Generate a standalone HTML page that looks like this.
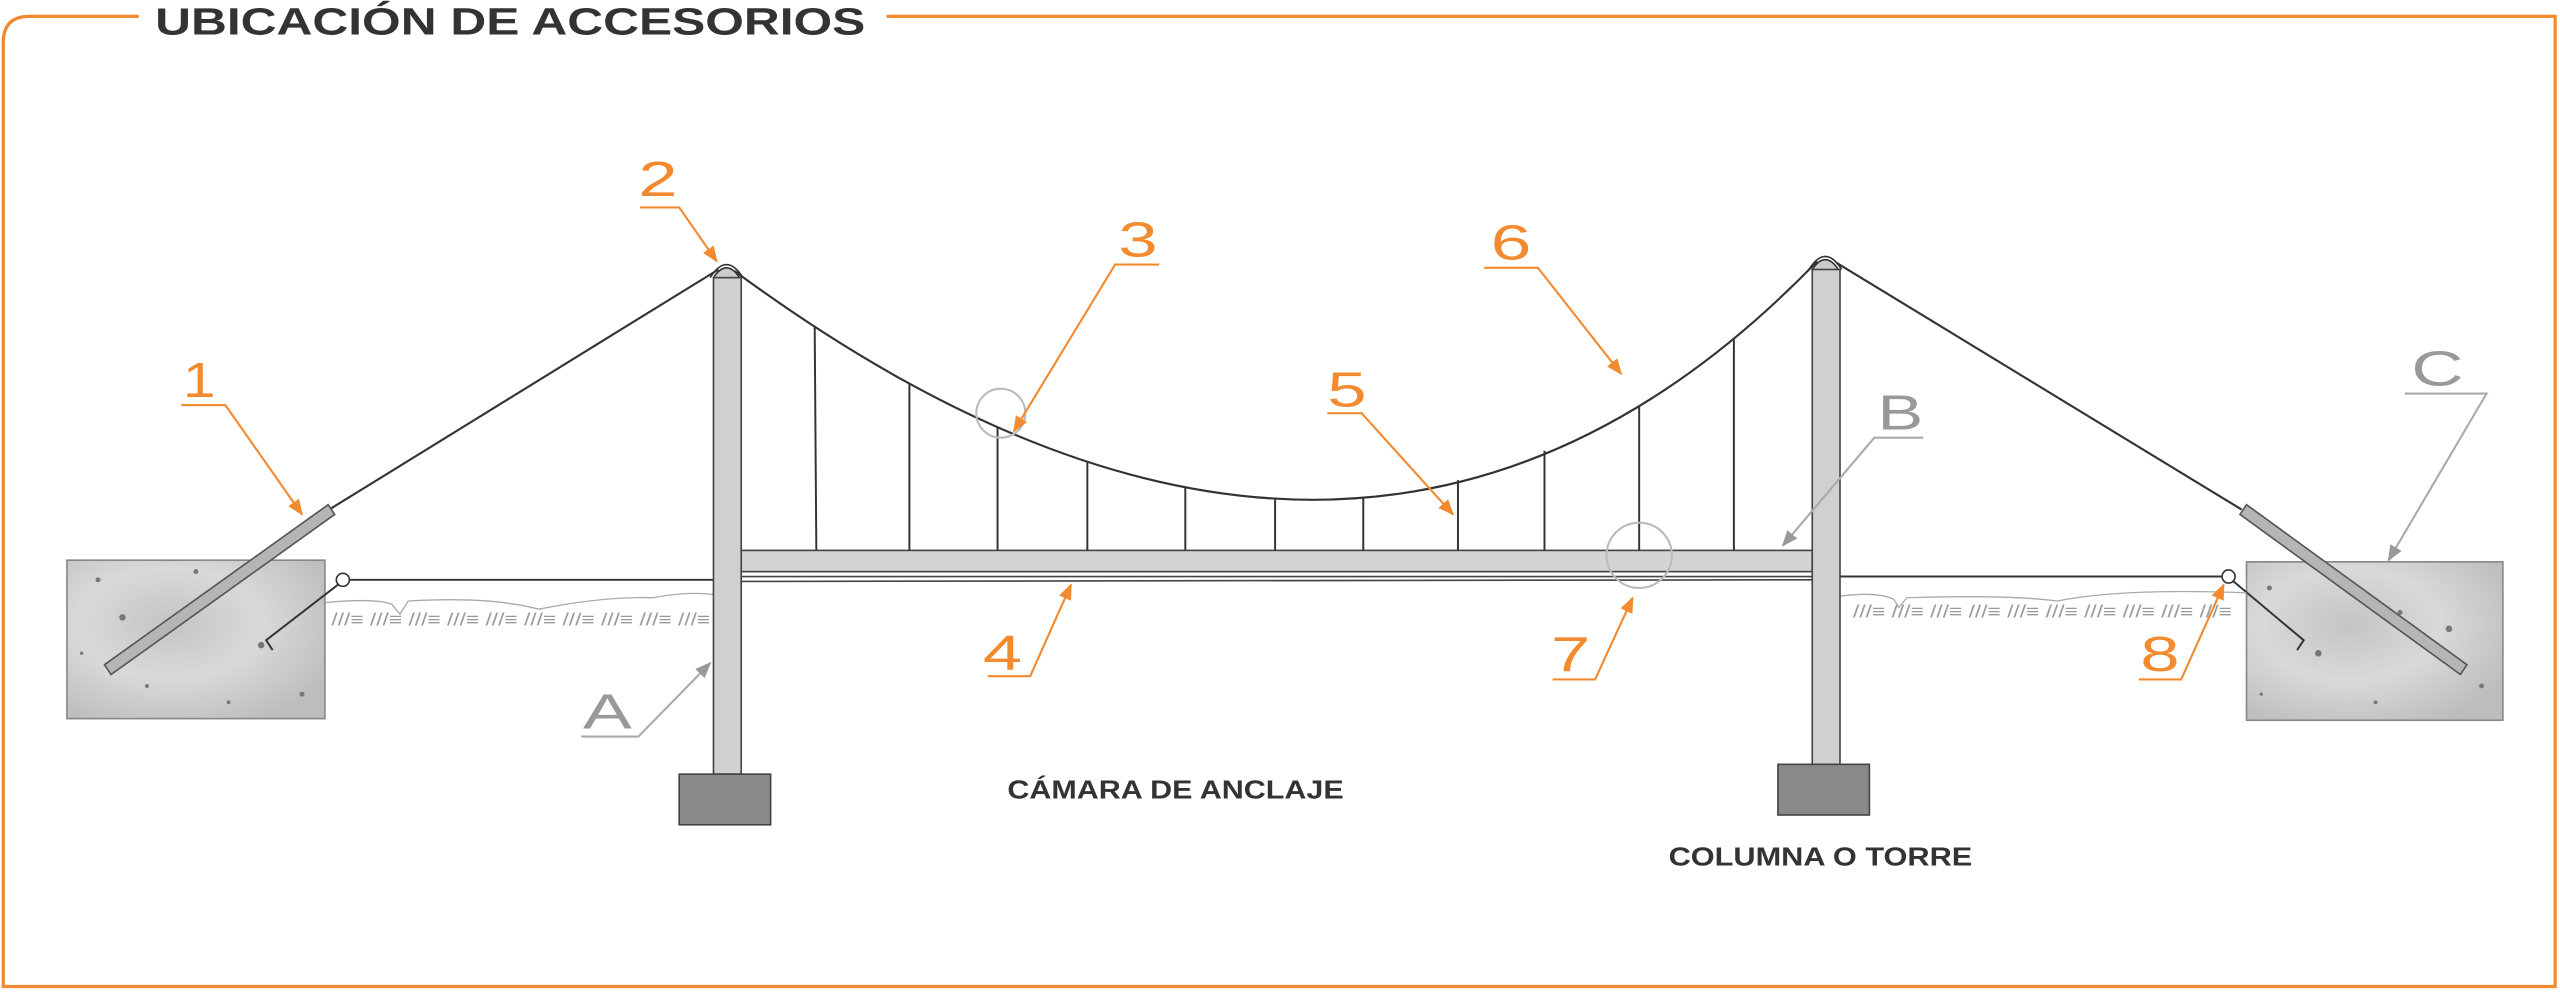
<!DOCTYPE html>
<html><head><meta charset="utf-8"><style>
html,body{margin:0;padding:0;background:#fff;}
svg{display:block;}
text{font-family:"Liberation Sans",sans-serif;}
</style></head><body>
<svg width="2560" height="993" viewBox="0 0 1568 608" preserveAspectRatio="none" xmlns="http://www.w3.org/2000/svg">
<defs>
<marker id="ao" markerWidth="10" markerHeight="10" refX="9" refY="5" orient="auto" markerUnits="userSpaceOnUse"><path d="M0,1 L10,5 L0,9 z" fill="#f28a30"/></marker>
<marker id="ag" markerWidth="10" markerHeight="10" refX="9" refY="5" orient="auto" markerUnits="userSpaceOnUse"><path d="M0,1 L10,5 L0,9 z" fill="#999"/></marker>
<radialGradient id="conc" cx="40%" cy="40%" r="70%"><stop offset="0" stop-color="#c4c4c4"/><stop offset="0.5" stop-color="#d9d9d9"/><stop offset="1" stop-color="#bdbdbd"/></radialGradient>
</defs>
<!-- frame -->
<path d="M85,10 L18,10 Q2,10 2,26 L2,604 L1565,604 L1565,10 L543,10" fill="none" stroke="#f28a30" stroke-width="2"/>
<text x="95" y="21" font-size="23" font-weight="bold" fill="#333" textLength="435" lengthAdjust="spacingAndGlyphs">UBICACIÓN DE ACCESORIOS</text>

<!-- anchor blocks -->
<rect x="41" y="343" width="158" height="97" fill="url(#conc)" stroke="#888" stroke-width="1"/>
<rect x="1376" y="344" width="157" height="97" fill="url(#conc)" stroke="#888" stroke-width="1"/>
<g fill="#777">
<circle cx="60" cy="355" r="1.5"/><circle cx="75" cy="378" r="2"/><circle cx="120" cy="350" r="1.5"/><circle cx="160" cy="395" r="2"/><circle cx="90" cy="420" r="1.2"/><circle cx="185" cy="425" r="1.5"/><circle cx="50" cy="400" r="1"/><circle cx="140" cy="430" r="1.2"/>
<circle cx="1390" cy="360" r="1.5"/><circle cx="1420" cy="400" r="2"/><circle cx="1470" cy="375" r="1.5"/><circle cx="1500" cy="385" r="2"/><circle cx="1455" cy="430" r="1.2"/><circle cx="1520" cy="420" r="1.5"/><circle cx="1385" cy="425" r="1"/>
</g>

<!-- ground lines -->
<line x1="214" y1="355" x2="437" y2="355" stroke="#333" stroke-width="1.2"/>
<circle cx="210" cy="355" r="4" fill="#fff" stroke="#333" stroke-width="1"/>
<polyline points="207,358 163,392 167,398" fill="none" stroke="#333" stroke-width="1.2"/>
<line x1="1127" y1="353" x2="1361" y2="353" stroke="#333" stroke-width="1.2"/>
<circle cx="1365" cy="353" r="4" fill="#fff" stroke="#333" stroke-width="1"/>
<polyline points="1368,356 1411,392 1407,398" fill="none" stroke="#333" stroke-width="1.2"/>
<path d="M199,369 Q230,366 240,370 L245,376 L250,368 Q300,365 330,373 Q370,365 400,366 Q420,362 437,364" fill="none" stroke="#aaa" stroke-width="0.8"/>
<path d="M1127,365 Q1150,362 1160,367 L1163,372 L1168,366 Q1230,364 1260,368 Q1300,360 1376,363" fill="none" stroke="#aaa" stroke-width="0.8"/>
<text x="203" y="383" font-size="11" fill="#999" textLength="232" lengthAdjust="spacingAndGlyphs">///≡ ///≡ ///≡ ///≡ ///≡ ///≡ ///≡ ///≡ ///≡ ///≡</text>
<text x="1135" y="378" font-size="11" fill="#999" textLength="232" lengthAdjust="spacingAndGlyphs">///≡ ///≡ ///≡ ///≡ ///≡ ///≡ ///≡ ///≡ ///≡ ///≡</text>

<!-- deck -->
<rect x="454" y="337" width="656" height="13" fill="#d4d4d4" stroke="#444" stroke-width="1"/>
<line x1="454" y1="353" x2="1110" y2="353" stroke="#444" stroke-width="1"/>
<line x1="454" y1="356" x2="1110" y2="355" stroke="#444" stroke-width="1"/>

<!-- cables -->
<line x1="200" y1="313" x2="440" y2="165" stroke="#333" stroke-width="1.3"/>
<line x1="1125" y1="161" x2="1373" y2="312" stroke="#333" stroke-width="1.3"/>
<path d="M450,166 Q834,449 1113,160" fill="none" stroke="#333" stroke-width="1.3"/>
<g stroke="#333" stroke-width="1.2">
<line x1="499" y1="200" x2="500" y2="337"/>
<line x1="557" y1="235" x2="557" y2="337"/>
<line x1="611" y1="262" x2="611" y2="337"/>
<line x1="666" y1="283" x2="666" y2="337"/>
<line x1="726" y1="298" x2="726" y2="337"/>
<line x1="781" y1="305" x2="781" y2="337"/>
<line x1="835" y1="304" x2="835" y2="337"/>
<line x1="893" y1="294" x2="893" y2="337"/>
<line x1="946" y1="276" x2="946" y2="337"/>
<line x1="1004" y1="249" x2="1004" y2="337"/>
<line x1="1062" y1="207" x2="1062" y2="337"/>
</g>

<!-- anchor rods -->
<polygon points="64,407 201,309 205,315 68,413" fill="#b5b5b5" stroke="#555" stroke-width="1"/>
<polygon points="1372,315 1376,309 1511,407 1507,413" fill="#b5b5b5" stroke="#555" stroke-width="1"/>

<!-- towers -->
<path d="M437,170 Q445,158 453,170" fill="#ccc" stroke="#333" stroke-width="1"/>
<path d="M435,170 Q445,154 455,170" fill="none" stroke="#333" stroke-width="1"/>
<rect x="437" y="170" width="17" height="304" fill="#d0d0d0" stroke="#444" stroke-width="1"/>
<rect x="416" y="474" width="56" height="31" fill="#8a8a8a" stroke="#444" stroke-width="1"/>
<path d="M1110,165 Q1118,153 1126,165" fill="#ccc" stroke="#333" stroke-width="1"/>
<path d="M1108,165 Q1118,149 1128,165" fill="none" stroke="#333" stroke-width="1"/>
<rect x="1110" y="165" width="17" height="303" fill="#d0d0d0" stroke="#444" stroke-width="1"/>
<rect x="1089" y="468" width="56" height="31" fill="#8a8a8a" stroke="#444" stroke-width="1"/>

<!-- detail circles -->
<circle cx="613" cy="253" r="15" fill="none" stroke="#bbb" stroke-width="1.3"/>
<circle cx="1004" cy="340" r="20" fill="none" stroke="#bbb" stroke-width="1.3"/>

<!-- orange callouts -->
<g fill="none" stroke="#f28a30" stroke-width="1.3">
<polyline points="111,248 138,248 185,315" marker-end="url(#ao)"/>
<polyline points="392,127 416,127 439,160" marker-end="url(#ao)"/>
<polyline points="710,162 683,162 621,264" marker-end="url(#ao)"/>
<polyline points="605,414 631,414 656,358" marker-end="url(#ao)"/>
<polyline points="813,253 834,253 890,315" marker-end="url(#ao)"/>
<polyline points="909,164 942,164 993,229" marker-end="url(#ao)"/>
<polyline points="951,416 977,416 1000,366" marker-end="url(#ao)"/>
<polyline points="1310,416 1336,416 1362,358" marker-end="url(#ao)"/>
</g>
<g fill="#f28a30" font-size="30">
<text x="112" y="243" textLength="20" lengthAdjust="spacingAndGlyphs">1</text>
<text x="391" y="120" textLength="24" lengthAdjust="spacingAndGlyphs">2</text>
<text x="685" y="157" textLength="24" lengthAdjust="spacingAndGlyphs">3</text>
<text x="602" y="410" textLength="24" lengthAdjust="spacingAndGlyphs">4</text>
<text x="813" y="249" textLength="24" lengthAdjust="spacingAndGlyphs">5</text>
<text x="913" y="159" textLength="25" lengthAdjust="spacingAndGlyphs">6</text>
<text x="950" y="411" textLength="24" lengthAdjust="spacingAndGlyphs">7</text>
<text x="1311" y="411" textLength="24" lengthAdjust="spacingAndGlyphs">8</text>
</g>
<!-- gray callouts -->
<g fill="none" stroke="#aaa" stroke-width="1.3">
<polyline points="356,451 391,451 435,406" marker-end="url(#ag)"/>
<polyline points="1178,268 1148,268 1092,334" marker-end="url(#ag)"/>
<polyline points="1473,241 1523,241 1463,343" marker-end="url(#ag)"/>
</g>
<g fill="#999" font-size="30">
<text x="357" y="446" textLength="30" lengthAdjust="spacingAndGlyphs">A</text>
<text x="1150" y="263" textLength="28" lengthAdjust="spacingAndGlyphs">B</text>
<text x="1477" y="236" textLength="32" lengthAdjust="spacingAndGlyphs">C</text>
</g>

<text x="617" y="489" font-size="16" font-weight="bold" fill="#333" textLength="206" lengthAdjust="spacingAndGlyphs">CÁMARA DE ANCLAJE</text>
<text x="1022" y="530" font-size="16" font-weight="bold" fill="#333" textLength="186" lengthAdjust="spacingAndGlyphs">COLUMNA O TORRE</text>
</svg>
</body></html>
